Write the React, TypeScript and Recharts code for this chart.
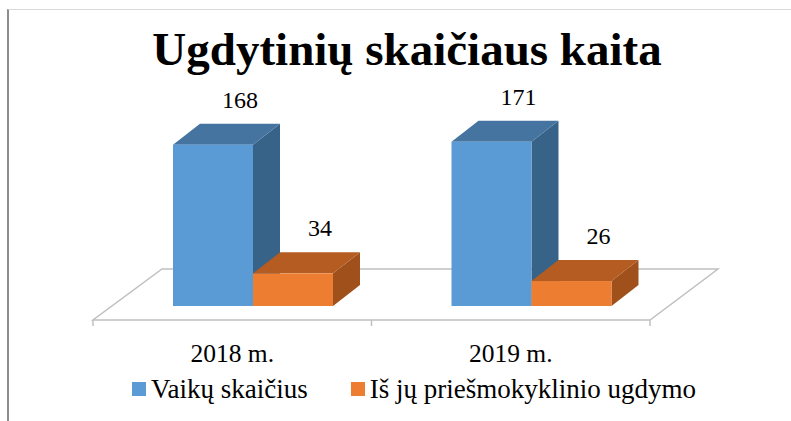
import { BarChart, Bar, XAxis, YAxis, Legend, LabelList, Customized } from 'recharts'

const years = ['2018 m.', '2019 m.']
const childrenCount = [168, 171]
const preschoolCount = [34, 26]
const seriesNames = ['Vaikų skaičius', 'Iš jų priešmokyklinio ugdymo']
const yDomain = [0, 200]

const chartData = years.map((year, i) => ({
  year,
  children: childrenCount[i],
  preschool: preschoolCount[i],
}))

const W = 791
const H = 421
const MARGIN = { top: 128, right: 141, bottom: 71, left: 93 }
const AXIS_H = 30
// floor depth, bar offset into the floor, bar depth
const FLOOR_DX = 68
const FLOOR_DY = 51
const SHIFT_X = 21
const SHIFT_Y = 14
const DEPTH_X = 27
const DEPTH_Y = 21
const FONT = "'Liberation Serif', 'Times New Roman', serif"

const BLUE = { front: '#5b9bd5', top: '#4574a0', side: '#386389' }
const ORANGE = { front: '#ed7d31', top: '#b55c22', side: '#a0501b' }

const Floor = () => {
  const left = MARGIN.left
  const right = W - MARGIN.right
  const front = H - MARGIN.bottom - AXIS_H
  const back = front - FLOOR_DY
  const mid = (left + right) / 2
  return (
    <g>
      <polygon
        points={`${left},${front} ${right},${front} ${right + FLOOR_DX},${back} ${left + FLOOR_DX + 1},${back}`}
        fill="#fff"
        stroke="#c0c0c0"
        strokeWidth={1.5}
      />
      {[left, mid, right].map((tx) => (
        <line key={tx} x1={tx} x2={tx} y1={front} y2={front + 6} stroke="#c0c0c0" strokeWidth={1.5} />
      ))}
    </g>
  )
}

const makeBox = (c: { front: string; top: string; side: string }) => (props: any) => {
  const { x, y, width, height } = props
  if (!height) return <g />
  const x0 = x + SHIFT_X
  const x1 = x0 + width
  const yt = y - SHIFT_Y
  const yb = yt + height
  return (
    <g>
      <polygon
        points={`${x1},${yt} ${x1 + DEPTH_X},${yt - DEPTH_Y} ${x1 + DEPTH_X},${yb - DEPTH_Y} ${x1},${yb}`}
        fill={c.side}
      />
      <polygon
        points={`${x0},${yt} ${x0 + DEPTH_X},${yt - DEPTH_Y} ${x1 + DEPTH_X},${yt - DEPTH_Y} ${x1},${yt}`}
        fill={c.top}
      />
      <rect x={x0} y={yt} width={width} height={height} fill={c.front} />
    </g>
  )
}

const ValueLabel = (props: any) => {
  const vb = props.viewBox || {}
  const x = props.x ?? vb.x
  const y = props.y ?? vb.y
  const width = props.width ?? vb.width
  return (
    <text
      x={x + SHIFT_X + DEPTH_X + width / 2}
      y={y - SHIFT_Y - DEPTH_Y - 16}
      textAnchor="middle"
      fontSize={24}
      fontFamily={FONT}
      fill="#000"
    >
      {props.value}
    </text>
  )
}

const YearTick = (props: any) => (
  <text x={props.x} y={props.y} dy={42} textAnchor="middle" fontSize={25.5} fontFamily={FONT} fill="#000">
    {props.payload.value}
  </text>
)

const LegendContent = (props: any) => {
  const items = [...(props.payload || [])].sort(
    (a: any, b: any) => seriesNames.indexOf(a.value) - seriesNames.indexOf(b.value)
  )
  return (
    <div
      style={{
        display: 'flex',
        alignItems: 'center',
        paddingLeft: 132,
        fontFamily: FONT,
        fontSize: 27,
        lineHeight: '28px',
        color: '#000',
      }}
    >
      {items.map((p: any, i: number) => (
        <div key={i} style={{ display: 'flex', alignItems: 'center', marginRight: 43 }}>
          <span style={{ width: 14, height: 14, background: p.color, marginRight: 5, display: 'inline-block' }} />
          <span>{p.value}</span>
        </div>
      ))}
    </div>
  )
}

export default function App() {
  return (
    <div style={{ position: 'absolute', left: 0, top: 0, width: W, height: H, background: '#fff', overflow: 'hidden' }}>
      <div
        style={{
          position: 'absolute',
          left: 7,
          top: 9,
          width: W,
          height: H,
          borderLeft: '2.5px solid #8c8c8c',
          borderTop: '1px solid #d9d9d9',
        }}
      />
      <div
        style={{
          position: 'absolute',
          left: 0,
          top: 26,
          width: W,
          paddingLeft: 23,
          boxSizing: 'border-box',
          textAlign: 'center',
          font: `bold 47px/46px ${FONT}`,
          color: '#000',
        }}
      >
        Ugdytinių skaičiaus kaita
      </div>
      <div style={{ position: 'absolute', left: 0, top: 0 }}>
        <BarChart width={W} height={H} data={chartData} margin={MARGIN} barGap={0} barSize={80}>
          <Customized component={Floor} />
          <XAxis
            dataKey="year"
            height={AXIS_H}
            axisLine={false}
            tickLine={false}
            tickSize={0}
            tickMargin={0}
            tick={YearTick}
          />
          <YAxis hide domain={yDomain} />
          <Legend
            layout="horizontal"
            verticalAlign="middle"
            align="center"
            content={LegendContent}
            wrapperStyle={{ top: 375, left: 0, width: W }}
          />
          <Bar dataKey="children" name={seriesNames[0]} fill={BLUE.front} shape={makeBox(BLUE)} isAnimationActive={false}>
            <LabelList dataKey="children" content={ValueLabel} />
          </Bar>
          <Bar dataKey="preschool" name={seriesNames[1]} fill={ORANGE.front} shape={makeBox(ORANGE)} isAnimationActive={false}>
            <LabelList dataKey="preschool" content={ValueLabel} />
          </Bar>
        </BarChart>
      </div>
    </div>
  )
}
